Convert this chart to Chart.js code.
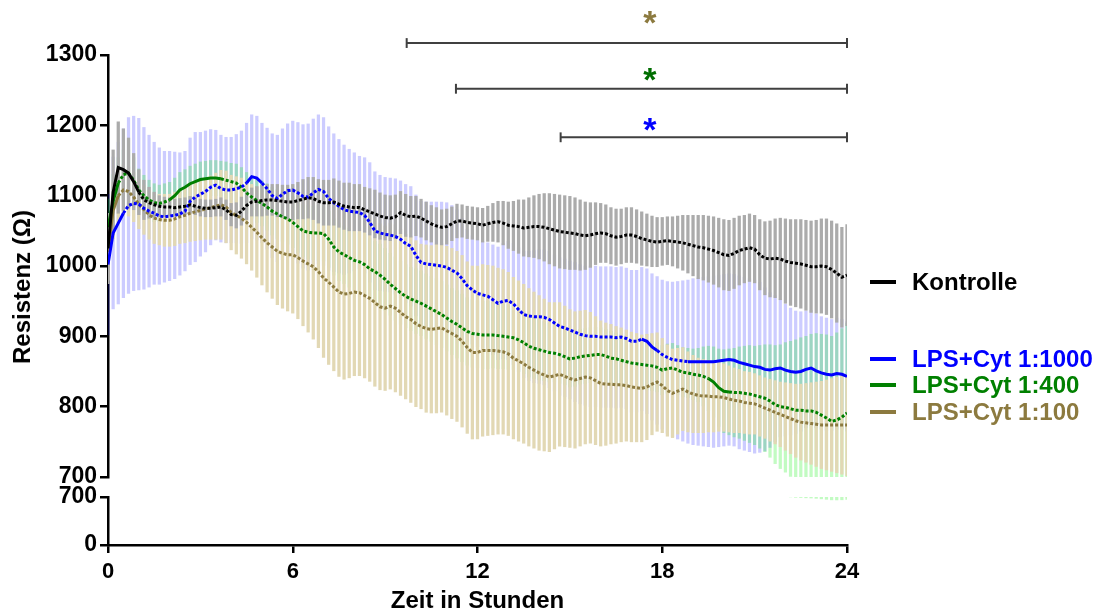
<!DOCTYPE html>
<html>
<head>
<meta charset="utf-8">
<script src="https://cdn.jsdelivr.net/npm/chart.js"></script>
<style>
  body { margin: 0; background: #fff; }
  #wrap { position: relative; width: 1108px; height: 616px; overflow: hidden; }
  #wrap canvas { position: absolute; left: 0; top: 0; }
  .leg { position: absolute; left: 870px; font: bold 24px "Liberation Sans", Arial, sans-serif; white-space: nowrap; }
  .leg span { display: inline-block; width: 26px; height: 4px; vertical-align: middle; margin-right: 16px; position: relative; top: -2px; }
  #ytitle { position: absolute; left: 22px; top: 287px; transform: translate(-50%, -50%) rotate(-90deg);
            font: bold 24px "Liberation Sans", Arial, sans-serif; white-space: nowrap; color: #000; }
</style>
</head>
<body>
<div id="wrap">
  <canvas id="lowChart" width="1108" height="616"></canvas>
  <canvas id="topChart" width="1108" height="616"></canvas>
  <div id="ytitle">Resistenz (Ω)</div>
  <div class="leg" style="top:268px;color:#000"><span style="background:#000"></span>Kontrolle</div>
  <div class="leg" style="top:345px;color:#0000ff"><span style="background:#0000ff"></span>LPS+Cyt 1:1000</div>
  <div class="leg" style="top:371px;color:#008000"><span style="background:#008000"></span>LPS+Cyt 1:400</div>
  <div class="leg" style="top:398px;color:#8c7a3f"><span style="background:#8c7a3f"></span>LPS+Cyt 1:100</div>
</div>
<script>
// time axis: one reading every 10 minutes, 0..24 h
var hours = [];
for (var i = 0; i <= 144; i++) hours.push(i / 6);

// mean resistance (Ohm), one row per hour
var kontrolle = [
  1025,1105,1140,1137,1132,1120,
  1105,1094,1090,1087,1085,1084,
  1084,1083,1084,1085,1087,1085,
  1083,1082,1082,1083,1084,1080,
  1073,1072,1078,1086,1091,1092,
  1093,1094,1094,1093,1092,1091,
  1091,1093,1095,1097,1096,1092,
  1090,1090,1091,1088,1085,1084,
  1083,1083,1080,1077,1074,1071,
  1069,1068,1070,1076,1072,1070,
  1071,1068,1064,1060,1057,1055,
  1056,1060,1064,1064,1062,1061,
  1060,1058,1060,1062,1063,1061,
  1058,1057,1056,1054,1055,1056,
  1056,1055,1053,1051,1049,1048,
  1047,1046,1044,1043,1044,1046,
  1047,1046,1043,1041,1042,1044,
  1044,1042,1039,1037,1035,1034,
  1035,1036,1035,1034,1033,1031,
  1029,1027,1026,1024,1022,1019,
  1016,1015,1018,1022,1024,1026,
  1024,1016,1011,1010,1011,1010,
  1007,1005,1004,1003,1001,999,
  999,1000,999,995,990,984,
  987
];
var kontrolleSd = [
  50,60,65,58,50,40,
  32,28,22,18,15,14,
  13,12,12,12,12,12,
  12,12,12,12,13,14,
  16,18,20,20,20,21,
  22,22,22,23,23,24,
  25,26,28,29,30,31,
  32,32,33,33,33,34,
  33,33,32,33,34,33,
  32,32,31,30,30,29,
  28,27,27,26,26,25,
  25,24,24,23,23,23,
  23,24,25,27,29,31,
  33,35,38,40,42,44,
  46,48,50,51,52,52,
  52,51,50,48,46,44,
  42,41,40,40,39,39,
  39,38,38,37,36,35,
  34,34,35,37,39,41,
  43,45,46,47,48,49,
  50,50,50,49,48,48,
  48,50,52,54,56,58,
  60,61,62,63,64,65,
  66,67,68,69,70,71,
  72
];
var lps1000 = [
  1002,1047,1061,1075,1086,1089,
  1088,1082,1078,1075,1071,1070,
  1071,1072,1074,1078,1092,1098,
  1102,1106,1112,1115,1110,1108,
  1108,1110,1112,1118,1127,1125,
  1118,1110,1100,1096,1102,1107,
  1108,1104,1099,1098,1104,1109,
  1106,1096,1090,1085,1080,1078,
  1077,1076,1072,1062,1050,1047,
  1045,1044,1042,1038,1032,1028,
  1015,1005,1003,1002,1001,1000,
  998,994,990,982,972,966,
  961,959,957,952,947,950,
  951,946,938,931,929,928,
  928,927,924,919,914,912,
  909,906,903,901,900,900,
  899,899,899,898,899,897,
  893,893,896,893,885,880,
  874,870,867,866,865,864,
  864,864,864,864,864,865,
  866,867,866,863,861,859,
  857,856,853,852,854,855,
  852,850,849,850,853,855,
  851,848,846,845,847,846,
  843
];
var lps1000Sd = [
  100,108,115,120,125,124,
  122,115,108,101,97,93,
  92,90,87,85,90,92,
  88,86,82,78,76,75,
  75,77,80,85,88,88,
  85,86,88,90,93,95,
  98,100,102,104,105,106,
  105,102,98,95,92,88,
  84,80,82,85,84,82,
  81,81,82,83,84,85,
  86,87,88,89,90,91,
  92,92,90,86,80,77,
  76,76,76,78,80,82,
  84,86,88,90,92,94,
  95,96,97,97,98,98,
  98,99,99,99,100,100,
  100,100,100,100,100,100,
  101,101,102,103,104,105,
  106,108,110,112,114,116,
  118,119,120,121,122,122,
  122,122,122,123,123,123,
  123,121,116,110,104,98,
  94,90,87,85,83,82,
  81,80,80,79,79,78,
  78
];
var lps400 = [
  1055,1092,1118,1130,1132,1122,
  1108,1100,1094,1090,1089,1091,
  1094,1100,1108,1112,1117,1120,
  1123,1124,1125,1125,1124,1122,
  1120,1118,1112,1104,1098,1093,
  1089,1084,1078,1074,1070,1067,
  1062,1056,1050,1048,1047,1047,
  1046,1038,1027,1020,1016,1012,
  1008,1006,1002,996,992,987,
  981,974,968,962,957,953,
  950,947,943,939,935,931,
  926,921,917,912,907,904,
  903,902,902,902,901,900,
  899,898,895,891,886,883,
  881,879,877,876,874,871,
  868,869,871,872,873,874,
  874,872,869,868,866,864,
  862,861,860,859,858,856,
  852,854,855,852,849,848,
  846,845,843,840,835,827,
  822,821,820,820,819,818,
  816,814,812,808,803,800,
  799,797,795,795,794,794,
  792,788,784,779,781,785,
  791
];
var lps400Sd = [
  40,38,36,35,33,32,
  30,29,28,27,26,26,
  25,25,25,25,25,25,
  25,25,25,25,25,26,
  26,27,28,29,30,31,
  32,33,34,35,35,36,
  36,37,37,38,38,39,
  39,40,40,41,41,42,
  42,42,43,43,43,44,
  44,44,45,45,45,45,
  46,46,46,46,47,47,
  47,47,48,48,48,48,
  48,48,48,47,47,46,
  46,45,45,44,44,43,
  43,42,42,41,41,40,
  40,40,39,39,39,39,
  38,38,38,37,37,37,
  36,36,36,35,35,35,
  35,35,35,35,35,35,
  36,38,42,46,50,55,
  59,61,63,65,67,69,
  70,73,76,80,84,88,
  92,96,100,103,106,109,
  112,115,118,121,124,126,
  128
];
var lps100 = [
  1020,1079,1100,1108,1106,1098,
  1088,1080,1073,1068,1066,1065,
  1065,1067,1070,1072,1075,1077,
  1079,1081,1083,1085,1087,1084,
  1076,1072,1068,1062,1055,1048,
  1040,1033,1027,1021,1018,1016,
  1016,1012,1007,1003,999,992,
  983,977,970,963,960,961,
  963,962,958,954,948,942,
  940,943,940,934,928,924,
  918,914,911,910,911,912,
  908,904,900,893,884,877,
  877,880,880,880,879,878,
  875,869,865,861,856,852,
  848,845,842,844,846,843,
  840,838,840,842,841,837,
  833,832,832,831,831,830,
  828,827,826,828,832,835,
  830,823,819,822,825,821,
  818,816,815,815,814,814,
  813,811,809,808,806,805,
  804,801,798,795,792,789,
  786,783,780,778,777,776,
  775,774,774,774,774,774,
  774
];
var lps100Sd = [
  40,40,38,36,35,35,
  35,35,35,36,36,37,
  37,38,38,39,40,41,
  42,43,45,47,49,51,
  53,55,57,59,61,64,
  67,70,73,76,78,80,
  83,87,92,97,103,108,
  113,117,119,120,121,120,
  119,118,117,118,119,118,
  117,118,119,118,117,118,
  118,117,119,119,120,120,
  120,121,121,122,122,123,
  123,122,121,120,118,117,
  116,115,114,113,112,111,
  110,108,106,104,102,100,
  98,97,96,95,93,91,
  89,87,85,83,81,79,
  78,77,76,75,72,70,
  67,65,63,61,59,57,
  55,53,52,51,50,49,
  48,47,46,45,44,44,
  43,43,43,44,45,46,
  48,50,52,54,56,58,
  60,62,64,66,68,70,
  72
];

// significance brackets (hours / Ohm) and their asterisks
var sigStart = [9.7, 11.3, 14.7];
var sigEnd = 24;
var sigLevel = [1317, 1252, 1183];
var starHour = 17.6;
var starLevel = [1352, 1272, 1201];
var starColors = ["#8c7a3f", "#006e00", "#0000ff"];

var FONT = "'Liberation Sans', Arial, sans-serif";
Chart.defaults.font.family = FONT;
Chart.defaults.font.weight = "bold";
Chart.defaults.color = "#000";
Chart.defaults.animation = false;

function dashFor(solid) {
  return function(ctx) {
    var x = ctx.p0.parsed.x;
    for (var k = 0; k < solid.length; k++) {
      if (x >= solid[k][0] && x < solid[k][1]) return [];
    }
    return [3, 2];
  };
}

function meanLine(label, values, color, order, solid) {
  return {
    type: "line",
    label: label,
    data: hours.map(function(t, i) { return { x: t, y: values[i] }; }),
    borderColor: color,
    borderWidth: 3,
    borderDash: [3, 2],
    pointRadius: 0,
    tension: 0,
    order: order,
    segment: { borderDash: dashFor(solid) }
  };
}

function errorBars(label, values, sd, color, order) {
  return {
    type: "bar",
    label: label + " SD",
    data: hours.map(function(t, i) { return { x: t, y: [values[i] - sd[i], values[i] + sd[i]] }; }),
    backgroundColor: color,
    borderWidth: 0,
    barThickness: 2.6,
    grouped: false,
    order: order
  };
}

// gray on top, then khaki, green, blue at the bottom
function barSets() {
  return [
    errorBars("Kontrolle", kontrolle, kontrolleSd, "#ababab", 10),
    errorBars("LPS+Cyt 1:100", lps100, lps100Sd, "#e2d8b4", 11),
    errorBars("LPS+Cyt 1:400", lps400, lps400Sd, "rgba(0,240,0,0.24)", 12),
    errorBars("LPS+Cyt 1:1000", lps1000, lps1000Sd, "rgba(0,0,255,0.2)", 13)
  ];
}

var axisGrid = { drawOnChartArea: false, drawTicks: true, tickLength: 8, color: "#000", lineWidth: 2.5, offset: false };
var axisBorder = { display: true, color: "#000", width: 2.5 };

function plainTick(v) { return String(v); }

var brackets = [];
sigStart.forEach(function(s, k) {
  var lvl = sigLevel[k];
  var parts = [
    [{ x: s, y: lvl }, { x: sigEnd, y: lvl }],
    [{ x: s, y: lvl - 7 }, { x: s, y: lvl + 7 }],
    [{ x: sigEnd, y: lvl - 7 }, { x: sigEnd, y: lvl + 7 }]
  ];
  parts.forEach(function(d, j) {
    brackets.push({
      type: "line",
      label: "sig" + k + "_" + j,
      data: d,
      borderColor: "#404040",
      borderWidth: 2,
      pointRadius: 0,
      clip: false,
      order: 0
    });
  });
});

var starPlugin = {
  id: "stars",
  afterDatasetsDraw: function(chart) {
    var ctx = chart.ctx;
    var xs = chart.scales.x, ys = chart.scales.y;
    ctx.save();
    ctx.font = "bold 34px " + FONT;
    ctx.textAlign = "center";
    ctx.textBaseline = "alphabetic";
    starLevel.forEach(function(v, k) {
      ctx.fillStyle = starColors[k];
      ctx.fillText("*", xs.getPixelForValue(starHour), ys.getPixelForValue(v) + 16);
    });
    ctx.restore();
  }
};

var upper = new Chart(document.getElementById("topChart"), {
  type: "line",
  data: {
    datasets: brackets.concat([
      meanLine("Kontrolle", kontrolle, "#000000", 1, [[0, 1]]),
      meanLine("LPS+Cyt 1:1000", lps1000, "#0000ff", 2, [[0, 0.5], [4.4, 4.9], [17.2, 17.8], [18.7, 24.1]]),
      meanLine("LPS+Cyt 1:400", lps400, "#008000", 3, [[0, 0.3], [1.9, 3.6], [19.5, 20.1]]),
      meanLine("LPS+Cyt 1:100", lps100, "#8c7a3f", 4, [[0, 0.3]])
    ]).concat(barSets())
  },
  options: {
    responsive: false,
    layout: { padding: { top: 55, right: 261, bottom: 139, left: 0 } },
    plugins: { legend: { display: false }, tooltip: { enabled: false } },
    scales: {
      x: { type: "linear", min: 0, max: 24, offset: false, display: false },
      y: {
        type: "linear", min: 700, max: 1300,
        ticks: { stepSize: 100, padding: 3, callback: plainTick, font: { size: 23, weight: "bold" }, color: "#000" },
        grid: axisGrid,
        border: axisBorder,
        afterFit: function(s) { s.width = 108; }
      }
    }
  },
  plugins: [starPlugin]
});

var lower = new Chart(document.getElementById("lowChart"), {
  type: "line",
  data: { datasets: barSets() },
  options: {
    responsive: false,
    layout: { padding: { top: 497, right: 261, bottom: 0, left: 0 } },
    plugins: { legend: { display: false }, tooltip: { enabled: false } },
    scales: {
      x: {
        type: "linear", min: 0, max: 24, offset: false,
        ticks: { stepSize: 6, padding: 6, autoSkip: false, maxRotation: 0, callback: plainTick, font: { size: 22, weight: "bold" }, color: "#000" },
        grid: axisGrid,
        border: axisBorder,
        title: { display: true, text: "Zeit in Stunden", font: { size: 24, weight: "bold" }, color: "#000", padding: { top: 0, bottom: 0 } },
        afterFit: function(s) { s.height = 71; }
      },
      y: {
        type: "linear", min: 0, max: 700,
        afterBuildTicks: function(s) { s.ticks = [{ value: 0 }, { value: 700 }]; },
        ticks: { autoSkip: false, padding: 3, callback: plainTick, font: { size: 23, weight: "bold" }, color: "#000" },
        grid: axisGrid,
        border: axisBorder,
        afterFit: function(s) { s.width = 108; }
      }
    }
  }
});
</script>
</body>
</html>
